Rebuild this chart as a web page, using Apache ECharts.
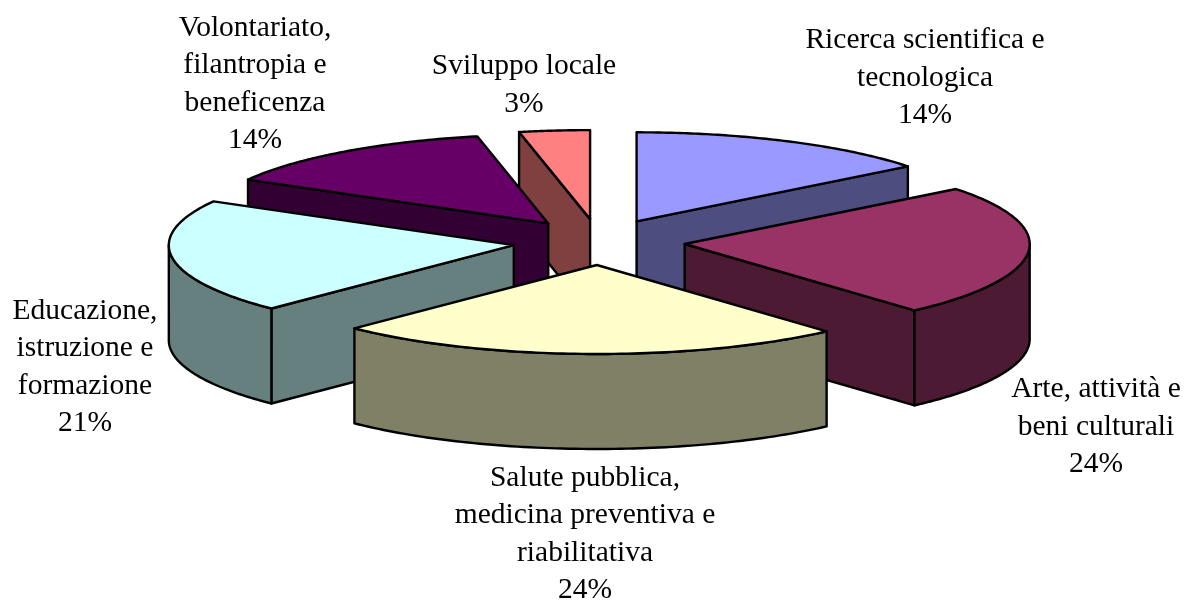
<!DOCTYPE html>
<html><head><meta charset="utf-8">
<style>html,body{margin:0;padding:0;background:#fff}#c{width:1194px;height:606px}</style>
<script src="https://cdn.jsdelivr.net/npm/echarts@6/dist/echarts.min.js"></script>
</head><body><div id="c"></div>
<script>
var categories = ['Ricerca scientifica e\ntecnologica','Arte, attività e\nbeni culturali','Salute pubblica,\nmedicina preventiva e\nriabilitativa','Educazione,\nistruzione e\nformazione','Volontariato,\nfilantropia e\nbeneficenza','Sviluppo locale'];
var values = [14.4,24,24,20.8,13.5,3.3];
var topColors = ['#9999FF','#993366','#FFFFCC','#CCFFFF','#660066','#FF8080'];
var wallColors = ['#4D4D80','#4D1A33','#808066','#668080','#330033','#804040'];

// layout (separate from data)
var geom = {cx:599, cy:242, rx:345, ry:89, ex:86, ey:23, depth:95, lw:2.4};
var labelPos = [[925,78],[1096,427],[585,534],[85,367],[255,84],[524,85]];
var total = values.reduce(function(a,b){return a+b;},0);
var PI=Math.PI;

function renderItem(params, api){
  var i = params.dataIndex, v = api.value(1);
  var before = 0; for (var k=0;k<i;k++) before += values[k];
  var a0 = before/total*2*PI, a1 = (before+v)/total*2*PI, mid=(a0+a1)/2;
  var ax = geom.cx+geom.ex*Math.sin(mid), ay = geom.cy-geom.ey*Math.cos(mid);
  function pt(a){return [ax+geom.rx*Math.sin(a), ay-geom.ry*Math.cos(a)];}
  function arcPts(s,e){var r=[],n=80;for(var j=0;j<=n;j++)r.push(pt(s+(e-s)*j/n));return r;}
  var D=geom.depth, down=function(p){return [p[0],p[1]+D];};
  var line={stroke:'#000',lineWidth:geom.lw,lineJoin:'round'};
  function poly(points,fill){return {type:'polygon',shape:{points:points},style:Object.assign({fill:fill},line)};}
  var wall=wallColors[i], apex=[ax,ay], arc=arcPts(a0,a1);
  var children=[];
  // cut faces that look towards the viewer
  if (a1>0 && a1<PI) children.push(poly([apex,pt(a1),down(pt(a1)),down(apex)],wall));
  if (a0>PI && a0<2*PI) children.push(poly([apex,pt(a0),down(pt(a0)),down(apex)],wall));
  // rounded rim: only the front half of the ellipse is visible
  var s=Math.max(a0,PI/2), e=Math.min(a1,3*PI/2);
  if (e>s){var o=arcPts(s,e); children.push(poly(o.concat(o.slice().reverse().map(down)),wall));}
  children.push(poly([apex].concat(arc),topColors[i]));
  return {type:'group',z2:Math.round(-Math.cos(mid)*100),children:children};
}
function renderLabels(params, api){
  var i=params.dataIndex, p=labelPos[i];
  return {type:'text',style:{text:categories[i]+'\n'+Math.round(api.value(1))+'%',x:p[0],y:p[1],align:'center',verticalAlign:'middle',
    font:'29.5px "Liberation Serif"',lineHeight:37.5,fill:'#000'}};
}
var rows = categories.map(function(c,i){return [i,values[i]];});
var order = rows.slice().sort(function(a,b){
  function m(r){var s=0;for(var k=0;k<r[0];k++)s+=values[k];return -Math.cos((s+r[1]/2)/total*2*PI);}
  return m(a)-m(b);
});
var chart=echarts.init(document.getElementById('c'),null,{renderer:'canvas'});
chart.setOption({
  animation:false,backgroundColor:'#fff',
  series:[
    {type:'custom',coordinateSystem:'none',renderItem:function(params,api){
      var idx=api.value(0); var p2=Object.assign({},params,{dataIndex:idx}); return renderItem(p2,api);},
      data:order,silent:true,z:1},
    {type:'custom',coordinateSystem:'none',renderItem:renderLabels,data:rows,silent:true,z:2}
  ]
});
</script></body></html>
